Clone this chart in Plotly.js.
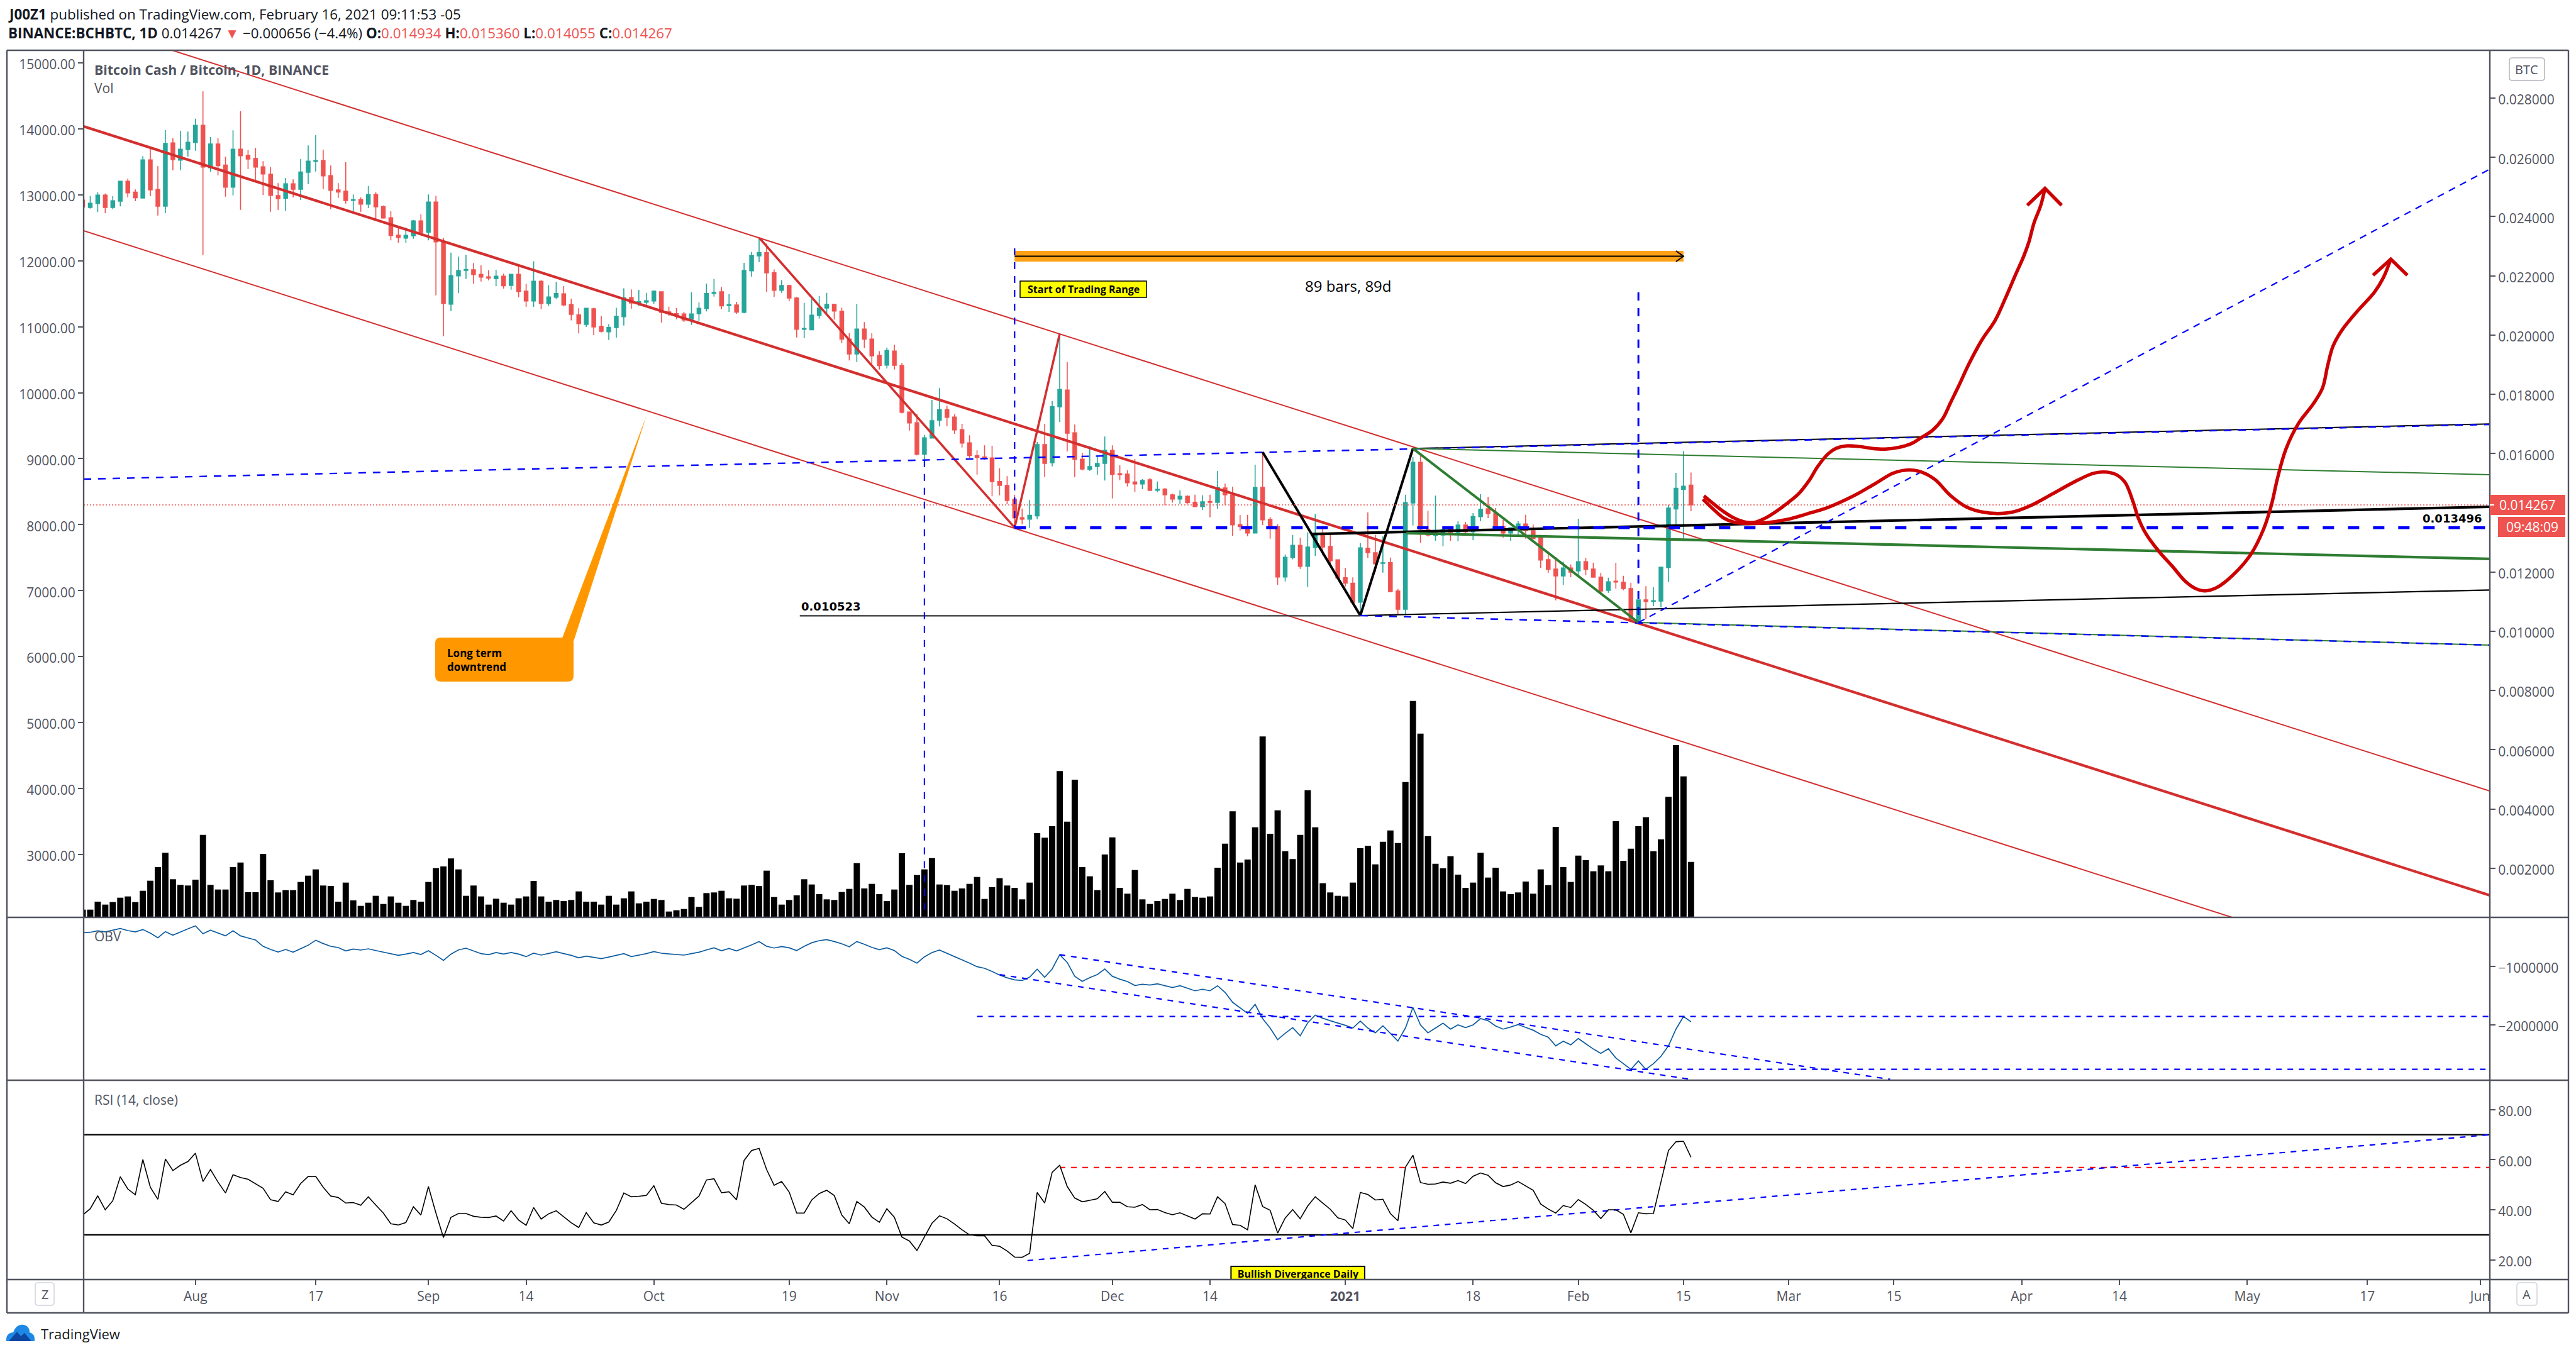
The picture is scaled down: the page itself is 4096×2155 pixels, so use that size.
<!DOCTYPE html>
<html>
<head>
<meta charset="utf-8">
<title>BCHBTC</title>
<script src="https://cdn.plot.ly/plotly-3.0.1.min.js"></script>
<style>html,body{margin:0;padding:0;background:#fff}#chart{width:4096px;height:2155px}</style>
</head>
<body>
<div id="chart"></div>
<script>
// ---------- candle data, units of 0.000001 BTC, one value per day from 2020-07-17 ----------
const firstDay = '2020-07-17';
const open = [
24556,24308,24442,24725,24308,24520,25192,24824,24626,25914,24916,24350,26488,25907,26268,
26502,27082,25652,26452,25737,24994,26275,26070,25964,25681,25433,24711,24619,25107,24923,25497,25865,25893,25384,24902,24860,24548,24577,24421,24747,24336,23961,23374,23275,23352,23855,
23473,24492,23133,21045,22001,22185,22206,22050,21965,21902,21987,21674,22049,21483,21151,21816,21066,21278,21391,21030,20684,20358,20889,20294,20110,20252,20620,21264,21094,21108,
21151,21462,20783,20726,20712,20535,20719,20896,21405,21462,20995,21016,20769,22170,22672,22785,22106,21512,21674,21250,20195,20181,20662,20910,21037,20804,19863,19360,20202,19863,19311,
18985,19459,18971,17400,17039,15977,16522,17124,17485,17231,16806,16360,15928,15886,15851,15058,14924,14456,13834,13784,13897,16304,15688,17577,18144,16700,15808,15468,15561,15667,
16105,15320,15306,15037,14973,15115,14761,14803,14605,14464,14556,14357,14209,14379,14350,14839,14605,13600,13536,13317,14860,13777,13529,11831,12489,12899,12192,12829,13246,12864,12411,
11810,11619,10982,12800,12652,12291,12319,11357,10741,14329,15702,13431,13239,13247,13445,13339,13586,13360,13869,14131,13990,13537,13317,13473,13622,13395,13155,12419,12100,11866,12135,
12036,12348,12100,11831,11378,11689,11654,11442,10366,11060,11010,11017,12150,14131,14789,14934];
const high = [
24556,24697,24824,24782,24690,25192,25277,24916,26042,26304,25702,26919,26650,26898,26870,
27308,28228,26686,26650,26020,26912,27563,26254,26318,25872,25667,25129,25306,25256,25950,26403,26749,26261,25723,25129,25836,24747,24648,25037,24824,24379,24180,23621,23635,23890,24074,
24747,24704,23282,22786,22652,22708,22432,22354,22185,22199,22071,22057,22304,21731,22495,21851,21688,21795,21653,21228,20903,20903,20924,20634,20372,20924,21582,21540,21526,21427,
21504,21476,20960,20910,20783,21441,21101,21738,21894,21625,21391,21122,22439,22807,23288,23090,22219,21858,21688,21285,21080,21221,21313,21427,21052,20924,20061,21052,20436,20061,19459,
19579,19672,19056,17407,17336,16628,17810,18207,17620,17330,17004,16615,16105,16275,16261,15504,15235,14612,14145,14428,16395,17004,17776,20061,19092,16976,16028,16254,15900,16572,
16275,15603,15433,15815,15136,15178,15058,14832,14648,14754,14591,14612,14591,14612,15412,14987,14881,13919,13933,15624,16028,13855,13607,12595,13253,13154,13338,13961,13565,13303,12418,
12135,11817,12984,14011,13253,13197,12489,11428,14612,15886,15922,14067,14577,13515,13480,13713,13692,13990,14627,14535,14159,13763,13494,13713,13933,13600,13254,12702,12503,12348,12256,
13799,12475,12312,11973,11810,12312,11874,11640,11060,11520,11484,12178,14273,15348,16084,15360];
const low = [
24308,24272,24152,24117,24251,24343,24648,24520,24619,24690,24039,24117,25567,25567,26027,
26226,22701,25511,25398,24676,24718,24230,25603,25228,24732,24166,24230,24187,24648,24563,25100,25525,24923,24251,24633,24442,24194,24166,24287,23897,23933,23197,23119,23119,23253,23430,
23197,21342,19962,20812,21413,21895,21739,21810,21845,21647,21569,21533,21278,20953,20953,20875,20981,21214,20967,20499,20054,20273,19997,20089,19834,19912,20323,20889,20981,21023,
21059,20422,20641,20535,20443,20344,20478,20797,21299,20868,20783,20719,20733,21971,22460,21462,21292,21427,21143,19919,19891,20174,20556,20733,20521,19728,19141,19091,19565,18999,18836,
18872,18836,17357,16777,15935,15581,16522,16912,16919,16665,16205,15858,15292,15787,14556,14591,14287,13515,13607,13487,13784,15207,15567,17061,16070,15207,15426,15419,15277,15086,
14485,15100,14888,14697,14796,14754,14697,14258,14343,14294,14308,14195,14096,13848,14131,14272,13218,13402,13204,13310,13586,13126,11569,11682,12432,12107,11491,12539,12560,12277,11781,
11513,10953,10543,12475,11994,11980,11322,10543,10543,13572,12985,13197,13055,12871,13055,13041,13303,13077,13713,13820,13445,13162,13055,13268,13126,13126,12135,11973,11046,11569,11824,
11881,11895,11810,11286,11300,11435,11378,10366,10295,10401,10847,10805,11661,13551,13126,14055];
const close = [
24322,24449,24725,24308,24534,25192,24803,24640,25914,24902,24350,26473,25921,26275,26509,
27082,25674,26452,25723,24994,26275,26056,25943,25674,25440,24718,24605,25107,24923,25504,25872,25893,25376,24888,24831,24541,24570,24421,24747,24329,23954,23360,23296,23367,23855,23466,
24492,23147,21066,22008,22178,22213,22043,21958,21923,21987,21668,22049,21469,21151,21816,21066,21285,21405,21016,20698,20386,20903,20273,20124,20259,20634,21257,21080,21129,21158,
21483,20769,20719,20698,20507,20712,20903,21405,21441,20988,21030,20776,22184,22693,22785,22099,21512,21674,21250,20195,20224,20669,20910,21037,20811,19863,19360,20202,19863,19296,18971,
19480,18978,17393,17032,15977,16529,17110,17485,17224,16799,16353,15936,15872,15844,15051,14924,14414,13827,13784,13912,16304,15667,17584,18165,16686,15801,15476,15561,15667,16105,
15299,15284,15016,14973,15093,14754,14789,14605,14464,14556,14343,14209,14372,14350,14853,14605,13593,13536,13317,14860,13763,13515,11831,12496,12899,12192,12843,13232,12843,12383,11795,
11626,10975,12815,12652,12277,12312,11336,10741,14343,15702,13445,13247,13268,13438,13339,13586,13360,13876,14117,13975,13530,13317,13494,13622,13409,13126,12404,12086,11866,12135,11994,
12348,12093,11824,11357,11668,11661,11442,10401,11060,11003,11031,12164,14159,14825,14895,14267];
const volume = [
37,37,75,61,73,94,100,73,127,175,240,308,182,155,152,
180,394,155,133,133,240,262,120,120,303,177,119,130,130,169,199,229,152,150,75,166,81,55,70,103,64,100,70,55,83,75,
169,235,243,281,229,103,152,100,61,89,70,61,91,100,174,100,75,83,78,83,124,75,75,61,103,61,91,124,67,75,
88,83,28,34,40,97,50,116,119,127,91,89,152,155,150,223,97,61,83,105,182,157,111,86,83,121,136,259,138,160,111,
78,133,306,155,202,229,283,157,154,127,138,160,193,88,144,187,152,141,86,166,402,380,435,698,457,657,240,196,130,300,
382,141,113,226,86,64,78,88,113,83,136,97,94,100,237,352,506,262,276,430,863,399,511,316,278,394,607,430,163,119,103,
100,166,330,341,253,361,415,355,646,1033,877,388,256,234,292,204,141,166,308,190,237,124,111,119,171,113,229,154,432,240,169,
295,273,220,248,220,459,270,328,435,478,316,372,575,822,673,265];
// OBV in thousands
const obv = [
-423,-416,-391,-409,-380,-351,-387,-409,-369,-430,-509,-405,-466,-416,-358,-305,-441,-380,-430,-477,
-391,-477,-513,-548,-656,-710,-753,-710,-756,-699,-638,-552,-609,-656,-677,-735,-703,-720,-699,-728,
-756,-781,-810,-789,-763,-796,-731,-810,-896,-789,-717,-688,-738,-781,-799,-763,-789,-763,-789,-832,
-774,-806,-778,-749,-781,-810,-853,-824,-846,-867,-839,-810,-781,-832,-806,-781,-746,-774,-785,-796,
-806,-781,-756,-717,-681,-731,-692,-735,-685,-631,-574,-656,-685,-660,-681,-728,-656,-595,-559,-541,
-574,-613,-663,-574,-620,-674,-713,-681,-728,-828,-878,-943,-835,-763,-720,-774,-828,-882,-943,-1004,
-1032,-1086,-1147,-1194,-1229,-1240,-1183,-1047,-1186,-1043,-799,-932,-1168,-1254,-1190,-1140,-1043,-1168,-1219,-1258,
-1326,-1305,-1319,-1297,-1326,-1362,-1330,-1376,-1416,-1391,-1416,-1330,-1444,-1613,-1706,-1803,-1649,-1892,-2054,-2251,
-2143,-2047,-2186,-1964,-1832,-1885,-1928,-1964,-2007,-2054,-1935,-2054,-2136,-2014,-2150,-2276,-2054,-1702,-2000,-2136,
-2054,-1971,-2072,-2000,-2047,-2000,-1892,-1928,-2018,-2072,-2036,-1993,-2043,-2090,-2161,-2208,-2358,-2279,-2340,-2233,
-2322,-2412,-2487,-2408,-2566,-2663,-2760,-2616,-2760,-2663,-2538,-2358,-2072,-1857,-1946];
const rsi = [
37.9,40.4,45.6,40.0,43.6,53.2,48.3,46.0,60.1,49.0,44.2,60.3,55.7,57.8,59.3,
62.6,51.3,56.1,51.1,46.7,54.0,52.9,52.2,50.3,48.6,44.0,43.3,47.2,46.0,50.5,53.3,53.4,49.0,45.5,44.9,42.7,42.9,41.8,45.2,41.9,38.7,34.4,33.9,34.9,41.2,37.9,
49.3,38.7,28.9,37.0,38.5,38.5,37.4,37.0,36.9,37.5,35.5,39.6,35.9,33.8,40.9,36.3,38.4,39.6,37.2,34.8,32.9,38.9,34.8,33.9,35.1,39.7,46.7,45.2,45.4,45.7,
49.6,42.6,42.1,41.9,40.2,42.9,45.5,51.9,52.4,46.8,47.2,44.0,59.7,63.7,64.5,56.1,49.8,51.3,47.1,38.7,38.7,43.9,46.5,47.8,45.7,37.9,34.4,43.3,41.1,37.1,35.0,
40.4,37.0,29.1,27.5,23.7,29.3,34.6,37.6,36.4,34.3,32.0,30.0,29.6,29.6,25.8,25.4,23.5,21.1,21.0,22.6,46.9,42.7,55.0,57.8,49.3,44.7,43.2,43.8,44.4,47.3,
43.0,43.0,41.2,41.0,42.1,40.0,40.1,38.9,38.0,38.8,37.5,36.3,38.4,38.3,45.2,42.5,34.1,33.8,32.0,50.0,41.3,39.8,30.7,36.7,40.1,36.4,41.5,45.2,42.7,40.2,36.8,
35.9,32.5,46.9,46.1,43.9,44.2,38.5,35.6,57.0,61.8,50.9,50.2,50.3,51.1,50.6,51.7,50.5,53.4,54.7,53.8,50.8,49.3,49.9,51.3,49.6,47.8,42.3,40.3,38.7,41.7,40.9,
44.1,42.1,39.8,36.5,40.0,40.0,38.2,30.8,38.8,38.4,38.5,51.1,63.7,67.2,67.4,61.0];

// axis labels
const xStart = '2020-07-17 03:00', xEnd = '2021-06-02 07:00';
const xTickDates = ['2020-08-01','2020-08-17','2020-09-01','2020-09-14','2020-10-01','2020-10-19','2020-11-01','2020-11-16','2020-12-01','2020-12-14','2021-01-01','2021-01-18','2021-02-01','2021-02-15','2021-03-01','2021-03-15','2021-04-01','2021-04-14','2021-05-01','2021-05-17','2021-06-01'];
const xTickText = ['Aug','17','Sep','14','Oct','19','Nov','16','Dec','14','<b>2021</b>','18','Feb','15','Mar','15','Apr','14','May','17','Jun'];
const leftTicks = [3000,4000,5000,6000,7000,8000,9000,10000,11000,12000,13000,14000,15000];
// 0.014000 sits behind the last-price and countdown labels in the reference
const priceTicks = [0.002,0.004,0.006,0.008,0.010,0.012,0.016,0.018,0.020,0.022,0.024,0.026,0.028];
const obvTicks = [-1000000,-2000000], obvTickText = ['\u22121000000','\u22122000000'];
const rsiTicks = [20,40,60,80];

// freehand projections: days after 2021-02-16, price in 0.000001 BTC
const brushADays = [1.71,2.96,4.35,5.74,7.13,8.51,9.9,11.29,13.03,14.41,15.8,16.84,18.23,19.27,20.66,22.39,24.13,25.86,27.6,29.33,30.72,32.11,33.5,34.54,35.58,36.97,38.7,40.44,41.83,43.21,44.25,44.95,45.64,46.54,47.1];
const brushAPrice = [14570,14310,14039,13822,13692,13681,13822,14039,14364,14667,15122,15555,15988,16172,16259,16237,16172,16151,16205,16335,16551,16779,17179,17721,18262,19021,19833,20483,21241,22053,22649,23136,23786,24382,24955];
const headADays = [44.74,47.1,49.32], headAPrice = [24382,24955,24382];
const brushBDays = [1.58,2.96,4.35,5.74,7.47,9.9,12.68,15.45,18.23,21.7,24.48,26.91,28.99,30.72,32.46,34.54,36.62,38.7,40.78,42.87,45.3,48.07,51.19,53.62,55.36,56.75,57.79,58.83,59.52,60.56,62.3,64.03,65.77,67.16,68.34,69.93,72.01,74.44,76.18,77.22,78.05,79.16,80.83,82.77,84.02,84.71,85.41,86.59,88.67,90.96,92.14,93.11];
const brushBPrice = [14461,14125,13822,13681,13638,13660,13768,13963,14180,14580,14981,15338,15447,15371,15122,14580,14201,14028,13974,14028,14255,14634,15067,15338,15371,15263,15013,14364,13822,13281,12685,12198,11689,11440,11364,11472,11873,12577,13443,14255,15176,16151,17017,17667,18208,18966,19616,20158,20808,21457,21945,22562];
const headBDays = [90.75,93.11,95.32], headBPrice = [22021,22562,22021];

// drawn price lines: dates, prices (0.000001 BTC), colour, width, dash
const RED='#d32f2f', BLUE='#0000ff', GREEN='#2e7d32', BLACK='#000000';
const priceLines = [
 [[xStart,xEnd],[30570,4606],RED,2,'solid'],
 [[xStart,xEnd],[27046,1082],RED,4.2,'solid'],
 [[xStart,xEnd],[23522,-2442],RED,2,'solid'],
 [['2020-10-15','2020-11-18','2020-11-24'],[23288,13500,20046],RED,3.5,'solid'],
 [['2021-01-10',xEnd],[16170,17000],BLACK,2,'solid'],
 [[xStart,xEnd],[15136,16983],BLUE,2.4,'12px,11px'],
 [['2020-12-21','2021-01-03','2021-01-10'],[16049,10529,16170],BLACK,4,'solid'],
 [['2020-12-27 14:00',xEnd],[13283,14202],BLACK,4.2,'solid'],
 [['2021-01-03',xEnd],[10529,11393],BLACK,2.2,'solid'],
 [['2020-10-20 10:00','2021-01-03'],[10523,10523],'#333333',2.2,'solid'],
 [['2021-02-09',xEnd],[10295,9531],GREEN,2,'solid'],
 [['2021-01-03',xEnd],[10529,9531],BLUE,2.4,'12px,11px'],
 [['2021-01-10','2021-02-09'],[16170,10295],GREEN,4,'solid'],
 [['2021-01-10',xEnd],[16170,15285],GREEN,2,'solid'],
 [['2021-01-09 03:00',xEnd],[13314,12443],GREEN,4.2,'solid'],
 [['2020-11-18',xEnd],[13496,13496],BLUE,4.5,'18px,22px'],
 [[xStart,xEnd],[14267,14267],'#ef5350',1.6,'2px,3px'],
 [['2020-11-06','2020-11-06'],[15779,360],BLUE,2.2,'11px,11px'],
 [['2020-11-18','2020-11-18'],[22927,13496],BLUE,2.2,'11px,11px'],
 [['2021-02-09','2021-02-09'],[21440,10295],BLUE,3,'13px,12px'],
 [['2021-02-09',xEnd],[10295,25602],BLUE,2.2,'11px,9px'],
 [['2020-11-18','2021-02-15'],[22660,22660],BLACK,2,'solid'],
 [['2021-02-14','2021-02-15','2021-02-14'],[22843,22660,22482],BLACK,2,'solid'],
];
// lines in the OBV pane (thousands)
const obvLines = [
 [['2020-11-24','2021-03-14 12:00'],[-799,-2932]],
 [['2020-11-16','2021-02-16'],[-1140,-2932]],
 [['2020-11-13',xEnd],[-1857,-1857]],
 [['2021-02-08',xEnd],[-2760,-2760]],
];
// lines in the RSI pane
const rsiBand = [30,70];
const rsiResistance = [['2020-11-24',xEnd],[56.9,56.9]];
const rsiTrend = [['2020-11-19 17:00',xEnd],[19.7,70]];

// ---------- build ----------
const N = open.length;
const dates = [];
{ const t0 = Date.parse(firstDay+'T00:00:00Z');
  for (let i=0;i<N;i++) dates.push(new Date(t0+i*864e5).toISOString().slice(0,10)); }
const u = a => a.map(v=>v/1e6);
const brushDate = d => new Date(Date.UTC(2021,1,16)+d*864e5).toISOString().slice(0,19).replace('T',' ');

const L=133,R=3959,T=80,B=2035;
const fx=p=>(p-L)/(R-L), fy=p=>(B-p)/(B-T);
const FONT='"Open Sans", sans-serif', GREY='#50535e';

const traces = [];
traces.push({type:'bar',x:dates,y:volume,yaxis:'y',xaxis:'x',marker:{color:'#000',line:{width:0}},hoverinfo:'skip'});
traces.push({type:'scatter',mode:'lines',x:[xStart],y:[3000],yaxis:'y2',opacity:0,hoverinfo:'skip'});
traces.push({type:'candlestick',x:dates,open:u(open),high:u(high),low:u(low),close:u(close),yaxis:'y3',xaxis:'x',
  increasing:{line:{color:'#26a69a',width:1.6},fillcolor:'#26a69a'},
  decreasing:{line:{color:'#ef5350',width:1.6},fillcolor:'#ef5350'},whiskerwidth:0,hoverinfo:'skip'});
const line=(x,y,ax,color,width,dash,extra)=>Object.assign({type:'scatter',mode:'lines',x,y,yaxis:ax,xaxis:'x',
  line:{color,width,dash:dash||'solid'},hoverinfo:'skip'},extra||{});
priceLines.forEach(p=>traces.push(line(p[0],u(p[1]),'y3',p[2],p[3],p[4])));
const BRUSH='#cc0000', BRUSHW=5.4;
traces.push(line(brushADays.map(brushDate),u(brushAPrice),'y3',BRUSH,BRUSHW,'solid'));
traces.push(line(headADays.map(brushDate),u(headAPrice),'y3',BRUSH,BRUSHW,'solid'));
traces.push(line(brushBDays.map(brushDate),u(brushBPrice),'y3',BRUSH,BRUSHW,'solid'));
traces.push(line(headBDays.map(brushDate),u(headBPrice),'y3',BRUSH,BRUSHW,'solid'));
traces[traces.length-2].line.shape='spline';
traces[traces.length-4].line.shape='spline';
// OBV
traces.push(line(dates,obv.map(v=>v*1000),'y4','#0d5ca0',1.7));
obvLines.forEach(p=>traces.push(line(p[0],p[1].map(v=>v*1000),'y4',BLUE,2.2,'9px,9px')));
// RSI
rsiBand.forEach(v=>traces.push(line([xStart,xEnd],[v,v],'y5',BLACK,2.2)));
traces.push(line(rsiResistance[0],rsiResistance[1],'y5','#ff0000',2.2,'9px,9px'));
traces.push(line(rsiTrend[0],rsiTrend[1],'y5',BLUE,2.2,'9px,9px'));
traces.push(line(dates,rsi,'y5',BLACK,1.6));
traces.push({type:'scatter',mode:'text',x:['2020-12-25 17:00'],y:[13.9],text:['Bullish Divergance Daily'],yaxis:'y5',xaxis:'x',
  textposition:'middle center',textfont:{family:FONT,size:16,color:'#000',weight:700},hoverinfo:'skip',cliponaxis:true});

const axBase={showgrid:false,zeroline:false,fixedrange:true,ticks:'outside',ticklen:8,tickwidth:2,tickcolor:GREY,
  tickfont:{family:FONT,size:21,color:GREY},showline:false,tickmode:'array',anchor:'x',ticklabelshift:3};
const d1=(B-1459)/(B-T), d2=(B-1718)/(B-T);

// pixel helpers for page furniture (frame, buttons, callout)
const rrect=(x0,y0,x1,y1,r)=>`M${fx(x0+r)},${fy(y0)} L${fx(x1-r)},${fy(y0)} Q${fx(x1)},${fy(y0)} ${fx(x1)},${fy(y0+r)} L${fx(x1)},${fy(y1-r)} Q${fx(x1)},${fy(y1)} ${fx(x1-r)},${fy(y1)} L${fx(x0+r)},${fy(y1)} Q${fx(x0)},${fy(y1)} ${fx(x0)},${fy(y1-r)} L${fx(x0)},${fy(y0+r)} Q${fx(x0)},${fy(y0)} ${fx(x0+r)},${fy(y0)} Z`;
const poly=pts=>'M'+pts.map(p=>fx(p[0])+','+fy(p[1])).join(' L')+' Z';
const paperPath=(path,fill,lineColor,lw)=>({type:'path',xref:'paper',yref:'paper',path,fillcolor:fill,line:{color:lineColor||fill,width:lw||0},layer:'above'});
const frame=(x0,y0,x1,y1,w)=>({type:'line',xref:'paper',yref:'paper',x0:fx(x0),y0:fy(y0),x1:fx(x1),y1:fy(y1),line:{color:GREY,width:w||2.4},layer:'above'});
const pxRect=(x0,y0,x1,y1,fill,lc,lw)=>({type:'rect',xref:'paper',yref:'paper',x0:fx(x0),y0:fy(y0),x1:fx(x1),y1:fy(y1),fillcolor:fill,line:{color:lc||fill,width:lw||0},layer:'above'});

const shapes=[
 frame(11,80,4084,80),frame(11,2088,4084,2088),frame(11,80,11,2088),frame(4084,80,4084,2088),
 frame(133,80,133,2088),frame(R,80,R,2088),frame(11,1459,4084,1459),frame(11,1718,4084,1718),frame(11,2035,4084,2035),
 // date range bar
 {type:'rect',xref:'x',yref:'y3',x0:'2020-11-18',x1:'2021-02-15',y0:0.022482,y1:0.022843,fillcolor:'#ffa015',line:{width:0},layer:'below'},
 // bullish divergence label
 {type:'rect',xref:'x',yref:'y5',x0:'2020-12-16 19:00',x1:'2021-01-03 14:00',y0:5,y1:17.4,fillcolor:'#ffff00',line:{color:'#000',width:2},layer:'below'},
 // trading range label
 pxRect(1622,447,1823,473,'#ffff00','#000',1.5),
 // long term callout
 paperPath(poly([[1028,661],[892,1020],[912,1020]]),'#ff9800'),
 paperPath(rrect(692,1014,912,1084,9),'#ff9800'),
 // scale buttons
 paperPath(rrect(3990,92,4046,128,5),'rgba(0,0,0,0)','#b2b5be',1.5),
 paperPath(rrect(56,2040,86,2076,5),'rgba(0,0,0,0)','#d1d4dc',1.5),
 paperPath(rrect(4002,2040,4034,2076,5),'rgba(0,0,0,0)','#d1d4dc',1.5),
 // price labels
 pxRect(R,787,4079,819,'#ef5350'),
 pxRect(3972,822,4079,854,'#ef5350'),
 pxRect(R,802,R+7,804,'#ffffff'),
 // logo
 paperPath('M'+[[10,2133]].map(p=>fx(p[0])+','+fy(p[1]))+` Q${fx(9)},${fy(2120)} ${fx(21)},${fy(2119)} Q${fx(26)},${fy(2105)} ${fx(38)},${fy(2107)} Q${fx(47)},${fy(2109)} ${fx(47)},${fy(2119)} Q${fx(56)},${fy(2121)} ${fx(55)},${fy(2133)} Z`,'#1e88e5'),
 paperPath(poly([[14,2133],[27,2118],[33,2125],[39,2120],[50,2133]]),'#0d47a1'),
];

const note=(x,y,text,size,color,opts)=>Object.assign({xref:'paper',yref:'paper',x:fx(x),y:fy(y),text,showarrow:false,xanchor:'left',yanchor:'middle',
  font:{family:FONT,size,color},align:'left'},opts||{});
const PR='#ef5350';
const sp=(s)=>`<span style="color:${PR}">${s}</span>`;
const annotations=[
 note(11,22,'<b>J00Z1</b> published on TradingView.com, February 16, 2021 09:11:53 -05',22.4,'#131722'),
 note(11,53,`<b>BINANCE:BCHBTC, 1D</b> 0.014267 ${sp('\u25BC')} \u22120.000656 (\u22124.4%) <b>O:</b>${sp('0.014934')} <b>H:</b>${sp('0.015360')} <b>L:</b>${sp('0.014055')} <b>C:</b>${sp('0.014267')}`,22.4,'#131722'),
 note(148,110,'<b>Bitcoin Cash / Bitcoin, 1D, BINANCE</b>',21.3,GREY),
 note(148,140,'Vol',21,GREY),
 note(148,1489,'OBV',21,GREY),
 note(148,1749,'RSI (14, close)',21,GREY),
 note(2144,455,'89 bars, 89d',24,'#000',{xanchor:'center'}),
 note(1722.5,460,'<b>Start of Trading Range</b>',16,'#000',{xanchor:'center'}),
 note(709,1049,'<b>Long term<br>downtrend</b>',17,'#000',{}),
 note(4018,110,'BTC',20,GREY,{xanchor:'center'}),
 note(71,2058,'Z',20,GREY,{xanchor:'center'}),
 note(4018,2058,'A',20,GREY,{xanchor:'center'}),
 note(4019,803,'0.014267',21,'#fff',{xanchor:'center'}),
 note(4026,838,'09:48:09',21,'#fff',{xanchor:'center'}),
 note(63,2121,'TradingView',22,'#131722'),
 {xref:'x',yref:'y3',x:'2020-10-20 10:00',y:0.010523,yshift:15,text:'<b>0.010523</b>',showarrow:false,xanchor:'left',yanchor:'middle',font:{family:'"DejaVu Sans", sans-serif',size:18,color:'#000'}},
 {xref:'x',yref:'y3',x:'2021-06-01 10:00',y:0.013496,yshift:15,text:'<b>0.013496</b>',showarrow:false,xanchor:'right',yanchor:'middle',font:{family:'"DejaVu Sans", sans-serif',size:18,color:'#000'}},
];

const layout={
 width:4096,height:2155,autosize:false,paper_bgcolor:'#fff',plot_bgcolor:'#fff',showlegend:false,hovermode:false,
 margin:{l:L,r:4096-R,t:T,b:2155-B,pad:0},bargap:0.17,boxgap:0.3,
 xaxis:{type:'date',range:[xStart,xEnd],anchor:'y5',showgrid:false,zeroline:false,fixedrange:true,rangeslider:{visible:false},
  tickmode:'array',tickvals:xTickDates,ticktext:xTickText,ticks:'outside',ticklen:8,tickwidth:2,tickcolor:GREY,tickangle:0,
  tickfont:{family:FONT,size:21,color:GREY},showline:false},
 yaxis:{domain:[d1,1],range:[0,4137],visible:false,fixedrange:true,anchor:'x'},
 yaxis2:Object.assign({},axBase,{overlaying:'y',side:'left',range:[2045,15191],tickvals:leftTicks,tickformat:'.2f'}),
 yaxis3:Object.assign({},axBase,{overlaying:'y',side:'right',range:[0.000339,0.029615],tickvals:priceTicks,tickformat:'.6f'}),
 yaxis4:Object.assign({},axBase,{domain:[d2,d1],side:'right',range:[-2946000,-161000],tickvals:obvTicks,ticktext:obvTickText}),
 yaxis5:Object.assign({},axBase,{domain:[0,d2],side:'right',range:[12.1,91.8],tickvals:rsiTicks,tickformat:'.2f'}),
 shapes,annotations
};
Plotly.newPlot('chart',traces,layout,{displayModeBar:false,staticPlot:true});
</script>
</body>
</html>
